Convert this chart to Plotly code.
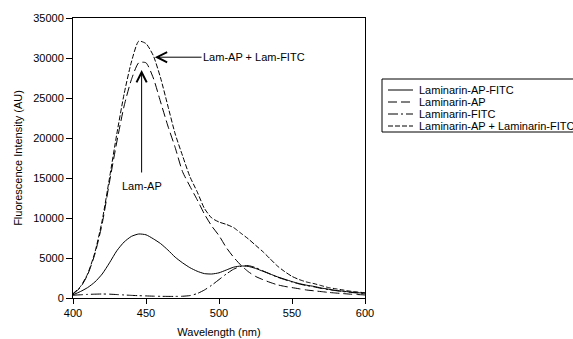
import plotly.graph_objects as go

wavelength = list(range(400, 601, 5))

ap_fitc = [400, 800, 1300, 2000, 3000, 4400, 5900, 7000, 7700, 8000,
           7900, 7400, 6800, 6000, 5100, 4400, 3800, 3350, 3050, 3000,
           3150, 3500, 3850, 4000, 3950, 3700, 3350, 3000, 2650, 2350,
           2050, 1800, 1600, 1450, 1250, 1100, 950, 850, 750, 660, 600]

lam_ap = [500, 1300, 2900, 5500, 9300, 14500, 19500, 24000, 27300, 29400,
          29400, 27500, 24500, 21500, 18800, 15800, 14000, 12300, 10500, 9000,
          7800, 6300, 5100, 4100, 3300, 2700, 2300, 1950, 1650, 1450,
          1300, 1150, 1000, 900, 800, 700, 620, 550, 480, 430, 380]

lam_fitc = [350, 400, 450, 480, 500, 480, 430, 380, 330, 290,
            260, 230, 210, 200, 200, 220, 300, 550, 1000, 1600,
            2300, 3000, 3600, 3950, 4050, 3800, 3400, 3000, 2600, 2300,
            2000, 1750, 1550, 1400, 1200, 1050, 920, 800, 700, 620, 560]

lam_sum = [550, 1400, 3000, 5700, 9700, 15000, 20500, 25500, 29500, 32100,
           31800, 30300, 27500, 24000, 20500, 17800, 15200, 13300, 11200, 10000,
           9500, 9200, 8800, 8100, 7400, 6600, 5800, 4900, 4000, 3300,
           2700, 2300, 2000, 1800, 1550, 1300, 1150, 1000, 850, 750, 650]

names = ["Laminarin-AP-FITC", "Laminarin-AP", "Laminarin-FITC",
         "Laminarin-AP + Laminarin-FITC"]
series = [ap_fitc, lam_ap, lam_fitc, lam_sum]
dashes = ["solid", "9px,4px", "10px,3px,2px,3px", "5px,2px"]

x_ticks = [400, 450, 500, 550, 600]
y_ticks = [0, 5000, 10000, 15000, 20000, 25000, 30000, 35000]

FONT = "Liberation Sans, Arial, sans-serif"

fig = go.Figure()
for name, ys, d in zip(names, series, dashes):
    fig.add_trace(go.Scatter(x=wavelength, y=ys, name=name, mode="lines",
                             line=dict(color="black", width=1, dash=d, shape="spline", smoothing=0.6),
                             showlegend=False, hoverinfo="skip"))

# manual legend (compact, like the reference)
W, H, L, R, T, B = 573, 339, 73, 208, 18, 41
pw = W - L - R
ph = H - T - B
def px(xp):
    return (xp - L) / pw
def py(yp):
    return (H - B - yp) / ph

shapes = [dict(type="path", xref="paper", yref="paper",
               path=f"M {px(600)} {py(79)} L {px(382)} {py(79)} L {px(382)} {py(132)} L {px(600)} {py(132)}",
               line=dict(color="black", width=1))]
annotations = []
row_y = [90, 102, 114, 126]
for name, d, ry in zip(names, dashes, row_y):
    shapes.append(dict(type="line", xref="paper", yref="paper",
                       x0=px(388), x1=px(413), y0=py(ry), y1=py(ry),
                       line=dict(color="black", width=1, dash=d)))
    annotations.append(dict(xref="paper", yref="paper", x=px(417), y=py(ry),
                            text=name, showarrow=False, xanchor="left", yanchor="middle",
                            font=dict(family=FONT, size=11, color="black")))

annotations.append(dict(x=456, y=30100, ax=524, ay=30100, axref="x", ayref="y",
                        text="Lam-AP + Lam-FITC", showarrow=True, arrowhead=5, arrowsize=2,
                        arrowwidth=1, arrowcolor="black",
                        font=dict(family=FONT, size=11, color="black")))
annotations.append(dict(x=447, y=28500, ax=447, ay=14000, axref="x", ayref="y",
                        text="Lam-AP", showarrow=True, arrowhead=5, arrowsize=2,
                        arrowwidth=1, arrowcolor="black", startstandoff=6,
                        font=dict(family=FONT, size=11, color="black")))

fig.update_layout(
    width=W, height=H,
    margin=dict(l=L, r=R, t=T, b=B, autoexpand=False),
    paper_bgcolor="white", plot_bgcolor="white",
    font=dict(family=FONT, size=11, color="black"),
    shapes=shapes, annotations=annotations,
    showlegend=False,
)
fig.update_xaxes(range=[400, 600], tickvals=x_ticks, ticks="outside", ticklen=5,
                 tickcolor="black", showline=True, linecolor="black", linewidth=1,
                 mirror=True, showgrid=False, zeroline=False, automargin=False,
                 title=dict(text="Wavelength (nm)", standoff=10,
                            font=dict(family=FONT, size=11)))
fig.update_yaxes(range=[0, 35000], tickvals=y_ticks, tickformat="d", ticks="outside",
                 ticklen=6, tickcolor="black", showline=True, linecolor="black",
                 linewidth=1, mirror=True, showgrid=False, zeroline=False, automargin=False,
                 title=dict(text="Fluorescence Intensity (AU)", standoff=8,
                            font=dict(family=FONT, size=11)))

fig.write_html("out.html", config={"displayModeBar": False},
               post_script="document.body.style.margin='0';document.body.style.overflow='hidden';")
